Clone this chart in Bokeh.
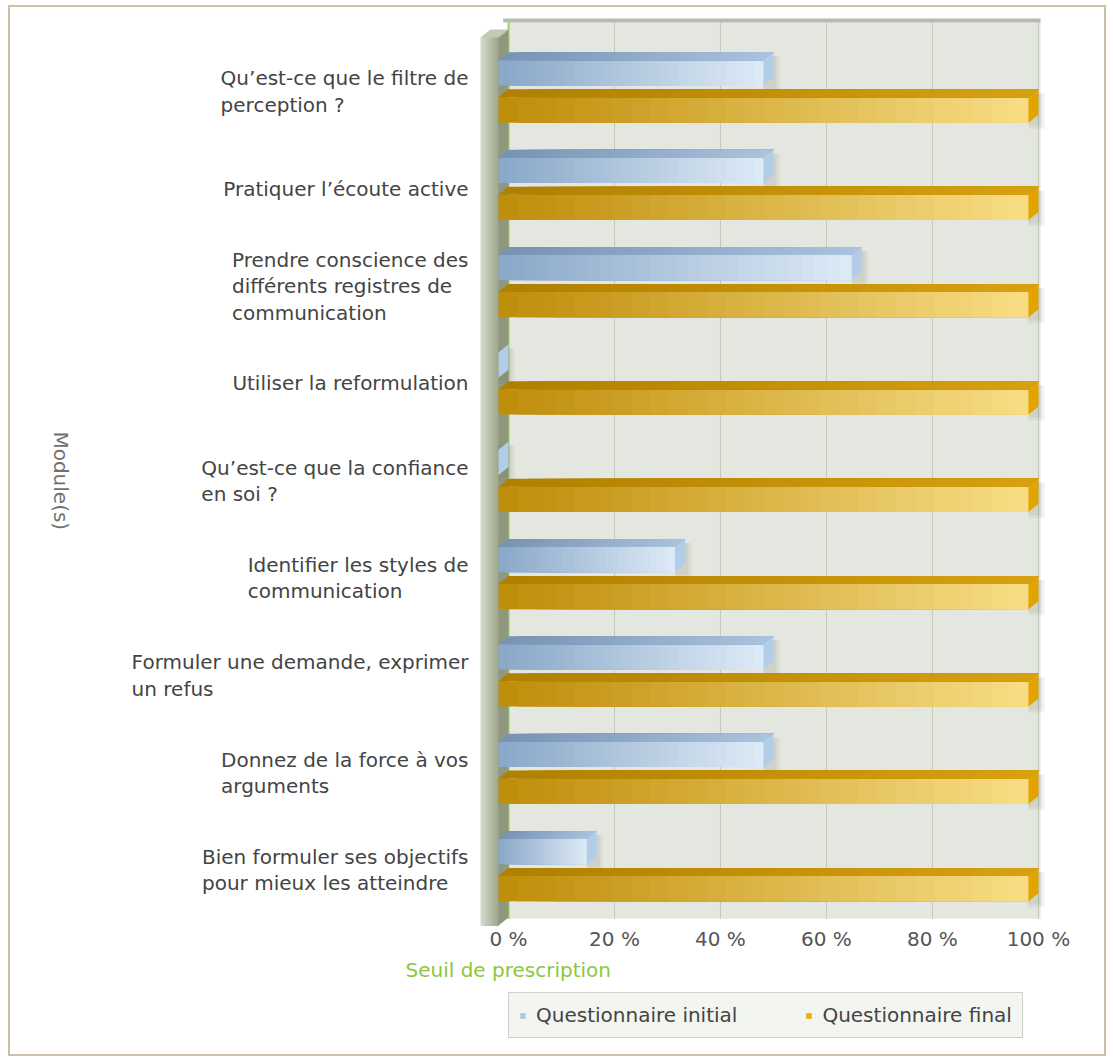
import numpy as np
from bokeh.plotting import figure
from bokeh.layouts import column
from bokeh.models import Range1d, FixedTicker, Legend, LegendItem, Title, Text
from bokeh.embed import file_html
from bokeh.resources import INLINE
from bokeh.core.properties import value

# ---------------- data ----------------
categories = [
    "Qu\u2019est-ce que le filtre de\nperception ?",
    "Pratiquer l\u2019\u00e9coute active",
    "Prendre conscience des\ndiff\u00e9rents registres de\ncommunication",
    "Utiliser la reformulation",
    "Qu\u2019est-ce que la confiance\nen soi ?",
    "Identifier les styles de\ncommunication",
    "Formuler une demande, exprimer\nun refus",
    "Donnez de la force \u00e0 vos\narguments",
    "Bien formuler ses objectifs\npour mieux les atteindre",
]
initial_values = [50, 50, 66.67, 0, 0, 33.33, 50, 50, 16.67]
final_values = [100, 100, 100, 100, 100, 100, 100, 100, 100]
x_ticks = [0, 20, 40, 60, 80, 100]
x_tick_labels = ["0 %", "20 %", "40 %", "60 %", "80 %", "100 %"]
series_names = ["Questionnaire initial", "Questionnaire final"]
series_colors = ["#a9c9ea", "#f0ad00"]
y_axis_title = "Module(s)"
threshold_label = "Seuil de prescription"

# ---------------- layout constants ----------------
FONT = "DejaVu Sans"
FS = "20px"
W = 1094
ML, MR, MT, MB = 20, 56, 11, 62
FH = 910
H = MT + FH + MB
FW = W - ML - MR
H2 = 1047 - H          # legend strip height
X0, X1 = -90.2, 101.9
Y_BOT, Y_TOP = 8.60, -0.75
PXX = (X1 - X0) / FW   # data units per pixel (x)
PXY = (Y_BOT - Y_TOP) / FH  # data units per pixel (y)
DX = 10 * PXX   # 3D depth offsets
DY = 8 * PXY
BAR_H = 0.26
OFF = 0.19
N = 28

PLANE_TOP, PLANE_BOT, PLANE_RIGHT = -0.709, 8.50, 100.4
WALL_LEFT, WALL_TOP, WALL_BOT = -5.28, -0.555, 8.57
LABEL_X = WALL_LEFT - 12 * PXX
TITLE_X = X0 + 30 * PXX


def hex2rgb(h):
    h = h.lstrip("#")
    return [int(h[i:i + 2], 16) for i in (0, 2, 4)]


def lerp(c1, c2, t):
    a, b = hex2rgb(c1), hex2rgb(c2)
    return "#%02x%02x%02x" % tuple(int(round(a[i] + (b[i] - a[i]) * t)) for i in range(3))


p = figure(width=W, height=H, x_range=Range1d(X0, X1), y_range=Range1d(Y_BOT, Y_TOP),
           output_backend="svg", toolbar_location=None,
           min_border_left=ML, min_border_right=MR, min_border_top=MT, min_border_bottom=MB)
p.outline_line_color = None
p.background_fill_color = "white"
p.border_fill_color = "white"
p.ygrid.grid_line_color = None
p.yaxis.visible = False
p.xgrid.ticker = FixedTicker(ticks=x_ticks)
p.xgrid.grid_line_color = None

# back plane
p.quad(left=[0], right=[PLANE_RIGHT], top=[PLANE_TOP], bottom=[PLANE_BOT],
       fill_color="#e4e7df", line_color=None)
# grid lines on the back plane
p.segment(x0=x_ticks[1:], y0=PLANE_TOP, x1=x_ticks[1:], y1=PLANE_BOT,
          line_color="#c3c8b7", line_width=1)
# top edge of back plane
p.quad(left=[-1.0], right=[PLANE_RIGHT], top=[PLANE_TOP - 5 * PXY], bottom=[PLANE_TOP],
       fill_color="#b7bab0", line_color=None)

# threshold line at 0
p.segment(x0=[0], y0=[PLANE_TOP], x1=[0], y1=[PLANE_BOT], line_color="#9fd35a", line_width=2)

# wall
wl, wr, wc = [], [], []
for k in range(N):
    t = k / (N - 1)
    wl.append(WALL_LEFT + (-DX - WALL_LEFT) * k / N)
    wr.append(-DX)
    wc.append(lerp("#d6dbcb", "#9fa78f", t))
p.quad(left=wl, right=wr, top=WALL_TOP, bottom=WALL_BOT, fill_color=wc, line_color=None)
p.patch(x=[WALL_LEFT, -DX, 0, WALL_LEFT + DX], y=[WALL_TOP, WALL_TOP, WALL_TOP - DY, WALL_TOP - DY],
        fill_color="#c3c9b5", line_color=None)
p.patch(x=[-DX, 0, 0, -DX], y=[WALL_TOP, WALL_TOP - DY, WALL_BOT - DY, WALL_BOT],
        fill_color="#8f977f", line_color=None)


def draw_bars(vals, off, front, top, side):
    fl, fr, ft, fb, fc = [], [], [], [], []
    txs, tys, tc = [], [], []
    sxs, sys_ = [], []
    shl, shr, sht, shb = [], [], [], []
    for i, v in enumerate(vals):
        yc = i + off
        yt, yb = yc - BAR_H / 2, yc + BAR_H / 2
        for k in range(N):
            t = k / (N - 1)
            fl.append(-DX + v * k / N)
            fr.append(-DX + v)
            ft.append(yt)
            fb.append(yb)
            fc.append(lerp(front[0], front[1], t))
            txs.append([-DX + v * k / N, -DX + v, v, v * k / N])
            tys.append([yt, yt, yt - DY, yt - DY])
            tc.append(lerp(top[0], top[1], t))
        sxs.append([v - DX, v, v, v - DX])
        sys_.append([yt, yt - DY, yb - DY, yb])
        for g in (3, 6):
            shl.append(v - DX)
            shr.append(v + g * PXX)
            sht.append(yt - DY + 4 * PXY)
            shb.append(yb + g * PXY)
    p.quad(left=shl, right=shr, top=sht, bottom=shb, fill_color="#7a7f70", fill_alpha=0.10,
           line_color=None)
    p.quad(left=fl, right=fr, top=ft, bottom=fb, fill_color=fc, line_color=None)
    p.patches(xs=txs, ys=tys, fill_color=tc, line_color=None)
    p.patches(xs=sxs, ys=sys_, fill_color=side, line_color=None)


draw_bars(initial_values, -OFF, ("#8aa8c8", "#dce9f6"), ("#7793b5", "#a9c2dd"), "#b3cde8")
draw_bars(final_values, OFF, ("#bf8e0a", "#f7dc84"), ("#b08000", "#d6a010"), "#e3a400")

# category labels: block anchored right, lines left-aligned
ys = list(range(len(categories)))
kw = dict(text_font=value(FONT), text_font_size=FS, text_color="#444444",
          text_line_height=1.1, text_baseline="middle")
if "anchor" in Text.properties():
    p.text(x=[LABEL_X] * len(categories), y=ys, text=categories, anchor="center_right",
           text_align="left", **kw)
else:
    p.text(x=[LABEL_X] * len(categories), y=ys, text=categories, text_align="right", **kw)

# y title (reads top to bottom)
p.text(x=[TITLE_X], y=[4.0], text=[y_axis_title], angle=-np.pi / 2, text_align="center",
       text_baseline="middle", text_font=value(FONT), text_font_size=FS, text_color="#707070")

# x axis
p.xaxis.ticker = FixedTicker(ticks=x_ticks)
p.xaxis.major_label_overrides = {t: l for t, l in zip(x_ticks, x_tick_labels)}
p.xaxis.axis_line_color = None
p.xaxis.major_tick_line_color = None
p.xaxis.minor_tick_line_color = None
p.xaxis.major_tick_out = 0
p.xaxis.major_tick_in = 0
p.xaxis.major_label_text_font = FONT
p.xaxis.major_label_text_font_size = FS
p.xaxis.major_label_text_color = "#555555"
p.xaxis.major_label_standoff = -2

# threshold label below the axis, centred on 0 %
zero_px = (0 - X0) / PXX
p.add_layout(Title(text=threshold_label, align="left", offset=zero_px - 103,
                   text_font=FONT, text_font_size=FS, text_font_style="normal",
                   text_color="#8dc63f", standoff=4), "below")

# legend strip
p2 = figure(width=W, height=H2, x_range=Range1d(0, 1), y_range=Range1d(0, 1),
            output_backend="svg", toolbar_location=None,
            min_border_left=0, min_border_right=0, min_border_top=0, min_border_bottom=0)
p2.axis.visible = False
p2.grid.visible = False
p2.outline_line_color = None
p2.background_fill_color = "white"
p2.border_fill_color = "white"
# legend proxies (kept outside the visible range)
r1 = p2.quad(left=[5], right=[6], top=[5], bottom=[6], fill_color=series_colors[0], line_color=None)
r2 = p2.quad(left=[5], right=[6], top=[5], bottom=[6], fill_color=series_colors[1], line_color=None)
legend = Legend(items=[LegendItem(label=series_names[0], renderers=[r1]),
                       LegendItem(label=series_names[1], renderers=[r2])],
                orientation="horizontal", location=(478, 16),
                background_fill_color="#f3f5f1", background_fill_alpha=1,
                border_line_color="#a9aca3", border_line_width=1,
                padding=10, spacing=68, label_standoff=10, margin=0,
                glyph_width=7, glyph_height=7, label_height=20,
                label_text_font=FONT, label_text_font_size=FS, label_text_color="#444444")
p2.add_layout(legend)

layout = column(p, p2, spacing=0)
layout.styles = {"border": "2px solid #cdbfa2", "margin-left": "8px", "margin-top": "5px"}

open("out.html", "w").write(file_html(layout, INLINE))
